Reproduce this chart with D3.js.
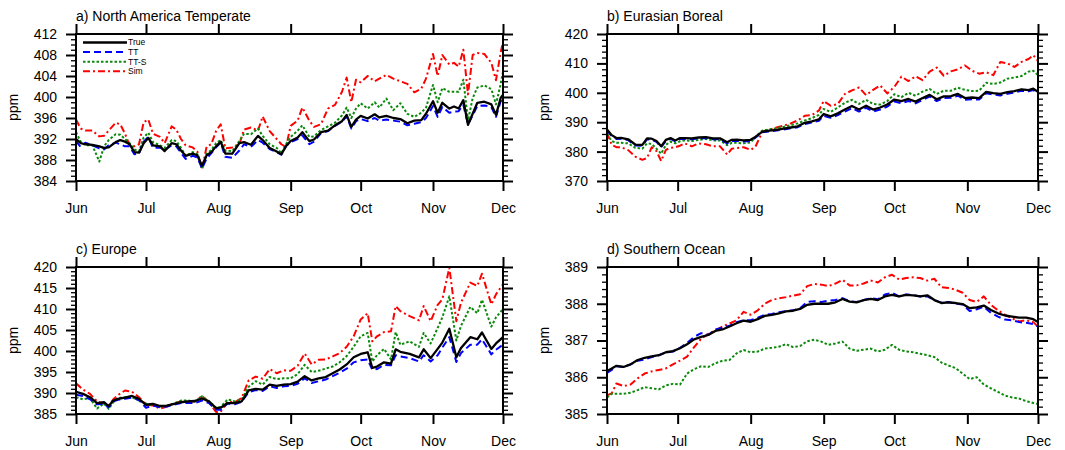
<!DOCTYPE html>
<html>
<head>
<meta charset="utf-8">
<script src="https://cdn.jsdelivr.net/npm/d3@7"></script>
<style>
  body { margin: 0; background: #fff; }
  text { font-family: "Liberation Sans", Arial, Helvetica, sans-serif; }
</style>
</head>
<body>
<div id="chart"></div>
<script>
// days after 1 June, one array per panel, shared by its four series
var A_days = [0,2,4,7,10, 12,14,17,19,21, 23,25,27,29,31, 33,36,38,41,43, 45,47,50,52,54, 56,58,60,62,64,
  67,70,72,75,78, 80,83,86,88,90, 92,95,97,100,102, 105,108,111,114,116, 118,120,122,125,128,
  130,133,136,139,142, 145,148,150,153,155, 157,160,162,164,166, 168,170,172,175,178, 180,182,183];
var A_true = [392.0,391.2,391.0,390.9,390.6, 390.3,390.4,391.4,391.8,391.5, 391.0,389.5,389.4,391.2,392.2,
  390.8,390.6,389.7,391.2,391.0, 389.8,388.8,389.2,388.9,386.9, 388.9,389.5,390.6,391.5,389.2,
  389.2,391.2,391.4,390.9,392.6, 391.8,390.3,389.6,389.1,390.6, 391.6,392.3,393.3,391.6,391.9,
  393.3,393.6,394.6,395.4,396.6, 394.3,395.7,396.4,395.9,396.7, 396.1,396.4,396.0,395.8,395.0,
  395.5,395.6,396.8,399.2,397.0, 398.9,397.8,398.2,397.8,399.4, 394.7,396.8,398.9,399.1,398.6,
  396.6,399.8,400.4];
var A_tt = [391.6,390.5,391.3,390.8,390.2, 390.0,390.8,391.3,391.0,390.6, 390.6,389.1,389.2,391.5,392.4,
  390.3,390.4,389.9,390.8,390.6, 389.4,388.2,388.8,388.5,386.4, 388.3,389.3,390.4,391.3,388.6,
  388.4,389.8,391.0,390.5,391.8, 391.3,390.1,389.5,389.0,390.7, 391.4,392.0,392.7,391.0,391.5,
  393.1,393.5,394.5,395.3,396.3, 394.0,395.4,395.8,395.4,396.0, 395.5,395.7,395.5,395.3,394.6,
  394.9,395.2,396.0,398.3,396.2, 398.1,397.0,397.2,397.3,398.5, 394.8,396.5,398.3,398.4,398.1,
  396.2,399.2,399.6];
var A_tts = [393.3,391.5,390.8,390.8,387.7, 390.6,391.8,392.9,392.8,392.0, 391.2,390.0,389.6,392.3,393.2,
  391.4,390.8,390.3,391.8,391.6, 390.3,388.8,389.5,389.1,386.3, 389.2,389.9,391.2,391.8,389.8,
  389.7,391.6,393.0,392.9,394.0, 392.6,391.0,390.3,389.3,391.0, 392.4,393.6,394.6,392.4,392.5,
  393.7,394.4,395.1,396.5,398.0, 396.0,397.8,398.8,397.8,399.0, 398.0,399.7,397.5,398.8,396.8,
  396.2,397.0,398.0,402.3,399.0, 401.7,401.0,401.0,401.0,403.3, 395.5,399.8,401.8,402.2,401.5,
  398.6,402.5,404.8];
var A_sim = [395.7,394.0,393.6,393.6,392.5, 392.6,393.6,395.1,394.8,393.0, 390.8,390.6,391.0,395.2,395.7,
  393.0,392.4,391.2,394.4,393.8, 392.0,390.8,390.4,389.6,386.2, 390.6,391.0,393.5,394.8,390.2,
  390.4,391.0,393.8,394.2,393.6, 396.3,393.5,392.0,391.0,390.5, 394.5,395.5,398.0,395.5,394.3,
  394.8,397.8,398.5,401.0,403.7, 399.0,403.3,402.8,404.0,403.0, 403.5,404.2,403.5,403.0,402.5,
  400.9,401.6,403.5,408.2,404.0, 408.0,406.2,406.5,405.8,409.0, 400.5,408.0,408.4,408.2,406.5,
  403.2,408.5,410.5];

var B_days = [0,2,4,6,9, 12,15,17,19,21, 23,25,27,29,31, 33,36,39,42,45, 48,51,53,55,58, 61,63,66,69,72,
  75,78,81,84,87, 90,92,95,98,101, 104,107,110,113,116, 119,122,125,128,131, 134,137,140,143,146,
  149,152,155,158,161, 164,167,170,173,176, 179,181,183];
var B_true = [387.5,385.6,384.6,384.7,384.2, 382.4,382.3,384.5,384.4,383.6, 381.8,384.0,384.6,383.8,384.6,
  384.6,384.5,384.8,384.9,384.5, 384.5,383.2,384.0,384.1,383.8, 384.0,385.0,386.8,387.1,387.4,
  387.8,388.2,388.6,389.8,390.3, 391.0,392.8,392.0,393.0,394.3, 395.5,394.3,395.6,394.3,395.0,
  396.0,397.7,397.2,397.9,397.0, 398.2,399.3,397.8,398.8,398.9, 399.6,398.2,398.4,398.2,400.3,
  399.9,399.6,400.2,400.6,401.2, 400.9,401.4,400.3];
var B_tt = [387.2,385.3,384.3,384.4,383.9, 382.1,382.0,384.2,384.1,383.3, 381.5,383.6,384.3,383.5,384.3,
  384.3,384.2,384.5,384.6,384.2, 384.2,382.8,383.6,383.7,383.4, 383.6,384.7,386.6,386.9,387.2,
  387.5,387.9,388.3,389.4,389.9, 390.5,392.2,391.5,392.4,393.6, 394.8,393.6,394.9,393.6,394.3,
  395.3,397.0,396.5,397.2,396.4, 397.6,398.7,397.2,398.2,398.3, 399.0,397.6,397.8,397.7,399.8,
  399.4,399.1,399.7,400.1,400.7, 400.5,400.9,399.8];
var B_tts = [386.0,383.6,383.0,383.0,382.8, 381.3,381.0,382.8,382.6,381.0, 379.3,382.3,383.4,382.8,383.5,
  383.8,383.6,384.0,384.3,383.8, 383.8,382.2,383.0,383.0,382.8, 383.1,385.0,387.2,387.5,388.0,
  388.4,389.0,389.6,390.6,391.4, 392.5,394.5,393.5,395.0,396.6, 397.6,396.2,397.6,396.2,396.0,
  397.2,399.5,398.5,400.0,399.0, 400.4,401.3,399.6,400.7,400.7, 401.7,401.0,400.6,400.7,403.4,
  403.0,403.5,404.8,405.2,405.7, 407.2,407.5,406.0];
var B_sim = [386.5,382.3,381.5,381.5,380.5, 378.3,377.2,377.8,381.5,380.2, 376.8,380.6,381.3,381.5,382.0,
  382.8,381.8,382.8,382.5,381.8, 381.8,379.0,381.0,381.2,381.5, 380.6,381.6,386.8,387.5,388.2,
  388.8,389.6,390.6,392.2,392.4, 394.0,397.2,395.6,396.2,399.6, 400.8,401.8,399.2,401.0,402.5,
  399.8,402.0,405.5,404.0,405.6, 404.3,407.2,408.6,405.8,407.3, 408.0,409.3,407.5,406.5,407.0,
  406.0,410.5,410.0,408.8,410.5, 411.5,412.8,410.8];

var C_days = [0,3,6,9,12, 14,16,18,21,24, 27,30,33,36,39, 42,45,48,51,54, 57,60,62,65,68, 71,74,77,80,83,
  86,89,92,95,98, 101,104,107,110,113, 116,119,122,125,127, 129,132,135,137,139, 143,147,149,152,155,
  157,160,163,165,169, 172,174,178,180,183];
var C_true = [390.3,389.8,389.0,387.6,387.8, 386.9,388.2,388.6,388.9,389.3, 388.6,387.2,387.4,386.9,387.0,
  387.4,387.8,388.0,388.1,388.7, 388.0,386.4,386.5,387.6,387.6, 388.0,390.6,391.0,390.8,392.0,
  391.7,392.0,392.1,392.7,394.0, 393.0,393.5,393.8,394.7,395.6, 396.8,398.5,399.3,399.7,396.0,
  396.3,397.3,397.0,400.4,399.8, 399.3,398.5,400.4,398.3,400.5, 402.0,405.3,398.5,400.7,403.3,
  402.8,404.4,400.5,401.8,403.3];
var C_tt = [389.6,389.3,388.5,387.3,387.4, 386.6,388.0,388.4,388.6,388.9, 388.3,386.5,387.0,386.6,386.8,
  387.2,387.6,387.6,387.6,388.2, 387.6,386.0,386.0,387.5,387.3, 387.9,390.2,390.7,390.5,391.6,
  391.2,391.6,391.7,392.2,393.5, 392.4,392.8,393.2,394.0,394.8, 395.8,397.3,397.8,398.0,395.5,
  395.7,396.7,396.6,399.0,398.7, 398.3,397.5,399.0,397.5,399.0, 400.8,403.3,397.4,399.5,401.5,
  401.5,402.8,399.2,400.3,401.5];
var C_tts = [389.0,388.5,388.8,386.3,387.5, 386.2,387.8,388.8,389.0,389.0, 388.2,387.5,387.0,386.7,387.0,
  387.5,388.2,388.2,388.0,389.2, 388.0,386.5,386.7,388.5,388.0, 388.5,391.5,392.8,392.0,393.8,
  393.3,393.5,393.5,394.5,396.7, 395.0,395.3,395.8,396.3,397.3, 398.8,401.0,403.5,404.3,397.5,
  399.0,400.5,398.0,404.5,401.5, 402.3,401.0,404.3,401.8,405.5, 408.0,413.0,402.5,406.0,410.5,
  409.0,412.2,405.8,408.0,410.0];
var C_sim = [392.3,390.8,389.8,388.0,387.5, 387.0,388.5,389.5,390.6,390.3, 389.0,387.2,387.0,386.3,386.8,
  387.5,388.0,388.0,388.0,389.3, 387.8,385.5,385.5,388.0,387.8, 388.8,393.0,393.9,393.4,395.7,
  394.7,395.4,395.3,396.5,399.4, 396.8,397.9,398.0,398.7,399.5, 401.0,403.5,407.5,409.0,402.3,
  403.5,404.5,404.7,410.7,409.5, 408.3,407.3,410.7,407.1,411.0, 412.3,419.8,407.1,411.5,416.3,
  415.5,418.4,411.1,413.5,415.9];

var D_days = [0,2,4,7,10, 13,16,19,22,25, 28,31,34,37,40, 43,46,49,52,55, 58,61,64,67,70, 73,76,79,82,85,
  88,91,94,97,100, 103,106,109,112,115, 118,121,124,127,130, 133,136,139,142,145, 148,151,154,157,160,
  163,166,169,172,175, 178,181,183];
var D_true = [386.17,386.24,386.31,386.28,386.35, 386.47,386.53,386.57,386.60,386.68, 386.71,386.79,386.90,387.03,387.10,
  387.15,387.26,387.30,387.38,387.47, 387.54,387.51,387.58,387.67,387.70, 387.74,387.79,387.81,387.86,387.97,
  388.00,388.00,388.00,388.04,388.13, 388.06,388.04,388.10,388.13,388.10, 388.20,388.24,388.20,388.24,388.23,
  388.20,388.23,388.10,388.02,388.04, 388.02,387.99,387.88,387.90,387.95, 387.83,387.74,387.68,387.65,387.62,
  387.62,387.58,387.50];
var D_tt = [386.12,386.20,386.30,386.28,386.35, 386.45,386.48,386.55,386.60,386.67, 386.70,386.80,386.93,387.10,387.20,
  387.15,387.30,387.35,387.40,387.50, 387.55,387.55,387.62,387.70,387.72, 387.77,387.80,387.82,387.88,388.05,
  388.07,388.05,388.08,388.10,388.15, 388.07,388.05,388.10,388.15,388.12, 388.25,388.30,388.20,388.25,388.24,
  388.20,388.20,388.10,388.03,388.05, 388.00,387.98,387.80,387.85,387.92, 387.75,387.65,387.57,387.55,387.50,
  387.48,387.45,387.38];
var D_tts = [385.45,385.55,385.55,385.55,385.58, 385.65,385.73,385.70,385.67,385.78, 385.82,385.80,386.10,386.22,386.30,
  386.28,386.38,386.45,386.47,386.65, 386.74,386.68,386.70,386.78,386.80, 386.83,386.90,386.82,386.85,386.98,
  387.02,386.97,386.88,386.92,386.97, 386.78,386.72,386.75,386.78,386.70, 386.75,386.88,386.75,386.70,386.68,
  386.64,386.60,386.55,386.40,386.32, 386.25,386.10,385.95,386.00,385.80, 385.70,385.60,385.50,385.45,385.42,
  385.35,385.30,385.27];
var D_sim = [385.51,385.56,385.83,385.76,385.80, 385.97,386.10,386.16,386.20,386.24, 386.35,386.45,386.56,386.82,387.05,
  387.18,387.27,387.38,387.46,387.55, 387.78,387.70,387.82,388.00,388.10, 388.15,388.18,388.22,388.26,388.48,
  388.54,388.52,388.48,388.55,388.65, 388.50,388.50,388.55,388.63,388.58, 388.72,388.79,388.66,388.70,388.72,
  388.70,388.63,388.68,388.45,388.43, 388.38,388.30,388.10,388.05,388.20, 387.97,387.82,387.70,387.60,387.52,
  387.55,387.50,387.38];

var seriesNames = ["True", "TT", "TT-S", "Sim"];
var seriesColors = ["#000000", "#0000ff", "#0a8a0a", "#ff0000"];
var seriesDash = [null, "7,4", "2.5,2", "7,3,2,3"];
var seriesWidth = [2.3, 2, 2, 2];

var panels = [
  {title: "a) North America Temperate", x: 76, y: 34, w: 427, h: 147, yDomain: [384, 412], major: 4, minor: 1,
   days: A_days, series: [A_true, A_tt, A_tts, A_sim], legend: true},
  {title: "b) Eurasian Boreal", x: 607, y: 34, w: 431, h: 147, yDomain: [370, 420], major: 10, minor: 2,
   days: B_days, series: [B_true, B_tt, B_tts, B_sim]},
  {title: "c) Europe", x: 76, y: 267, w: 427, h: 147, yDomain: [385, 420], major: 5, minor: 1,
   days: C_days, series: [C_true, C_tt, C_tts, C_sim]},
  {title: "d) Southern Ocean", x: 607, y: 267, w: 431, h: 147, yDomain: [385, 389], major: 1, minor: 0.2,
   days: D_days, series: [D_true, D_tt, D_tts, D_sim]}
];

var start = new Date(Date.UTC(2010, 5, 1)),
    end = new Date(Date.UTC(2010, 11, 1));
function dayToDate(d) { return new Date(Date.UTC(2010, 5, 1 + d)); }

var svg = d3.select("#chart").append("svg")
    .attr("width", 1065)
    .attr("height", 450);

function tickRange(lo, hi, step) {
  var n = Math.round((hi - lo) / step);
  return d3.range(n + 1).map(function(i) { return +(lo + i * step).toFixed(3); });
}

function styleAxis(sel, width) {
  sel.select(".domain").remove();
  sel.selectAll(".tick line").attr("stroke", "#000").attr("stroke-width", width);
  sel.selectAll(".tick text")
    .attr("fill", "#000")
    .attr("font-size", "14px")
    .attr("font-family", '"Liberation Sans", Arial, sans-serif');
}

panels.forEach(function(p, pi) {
  var g = svg.append("g").attr("transform", "translate(" + p.x + "," + p.y + ")");

  var x = d3.scaleUtc().domain([start, end]).range([0, p.w]);
  var y = d3.scaleLinear().domain(p.yDomain).range([p.h, 0]);

  var majorTicks = tickRange(p.yDomain[0], p.yDomain[1], p.major);
  var minorTicks = tickRange(p.yDomain[0], p.yDomain[1], p.minor)
    .filter(function(v) { return majorTicks.every(function(m) { return Math.abs(m - v) > 1e-6; }); });

  //
  // axes: ticks point outwards on all four sides
  //
  g.append("g").call(d3.axisLeft(y).tickValues(minorTicks).tickSize(5).tickFormat(""))
    .call(styleAxis, 1.3);
  g.append("g").attr("transform", "translate(" + p.w + ",0)")
    .call(d3.axisRight(y).tickValues(minorTicks).tickSize(5).tickFormat(""))
    .call(styleAxis, 1.3);
  g.append("g").call(d3.axisLeft(y).tickValues(majorTicks).tickSize(10).tickPadding(9).tickFormat(d3.format("d")))
    .call(styleAxis, 2);
  g.append("g").attr("transform", "translate(" + p.w + ",0)")
    .call(d3.axisRight(y).tickValues(majorTicks).tickSize(10).tickFormat(""))
    .call(styleAxis, 2);

  var months = x.ticks(d3.utcMonth.every(1));
  g.append("g").attr("transform", "translate(0," + p.h + ")")
    .call(d3.axisBottom(x).tickValues(months).tickSize(10).tickPadding(12).tickFormat(d3.utcFormat("%b")))
    .call(styleAxis, 2);
  g.append("g")
    .call(d3.axisTop(x).tickValues(months).tickSize(10).tickFormat(""))
    .call(styleAxis, 2);

  // clip the lines to the plot box
  g.append("clipPath").attr("id", "clip" + pi)
    .append("rect").attr("width", p.w).attr("height", p.h);

  var lines = g.append("g").attr("clip-path", "url(#clip" + pi + ")");
  // draw Sim first so True ends up on top
  [3, 2, 1, 0].forEach(function(si) {
    var vals = p.series[si];
    var line = d3.line()
      .x(function(d, i) { return x(dayToDate(p.days[i])); })
      .y(function(d) { return y(d); });
    lines.append("path")
      .datum(vals)
      .attr("d", line)
      .attr("fill", "none")
      .attr("stroke", seriesColors[si])
      .attr("stroke-width", seriesWidth[si])
      .attr("stroke-dasharray", seriesDash[si])
      .attr("stroke-linejoin", "round");
  });

  // frame
  g.append("rect")
    .attr("width", p.w)
    .attr("height", p.h)
    .attr("fill", "none")
    .attr("stroke", "#000")
    .attr("stroke-width", 2);

  g.append("text")
    .text(p.title)
    .attr("x", 0)
    .attr("y", -13)
    .attr("font-size", "14px")
    .attr("fill", "#000");

  g.append("text")
    .text("ppm")
    .attr("transform", "translate(-58," + (p.h / 2) + ") rotate(-90)")
    .attr("text-anchor", "middle")
    .attr("font-size", "14px")
    .attr("fill", "#000");

  if (p.legend) {
    var lg = g.append("g").attr("transform", "translate(7,8.5)");
    seriesNames.forEach(function(name, si) {
      var ly = si * 9.6;
      lg.append("line")
        .attr("x1", 0).attr("x2", 44)
        .attr("y1", ly).attr("y2", ly)
        .attr("stroke", seriesColors[si])
        .attr("stroke-width", seriesWidth[si])
        .attr("stroke-dasharray", seriesDash[si]);
      lg.append("text")
        .text(name)
        .attr("x", 45)
        .attr("y", ly)
        .attr("dy", "0.35em")
        .attr("font-size", "8.5px")
        .attr("fill", "#000");
    });
  }
});
</script>
</body>
</html>
